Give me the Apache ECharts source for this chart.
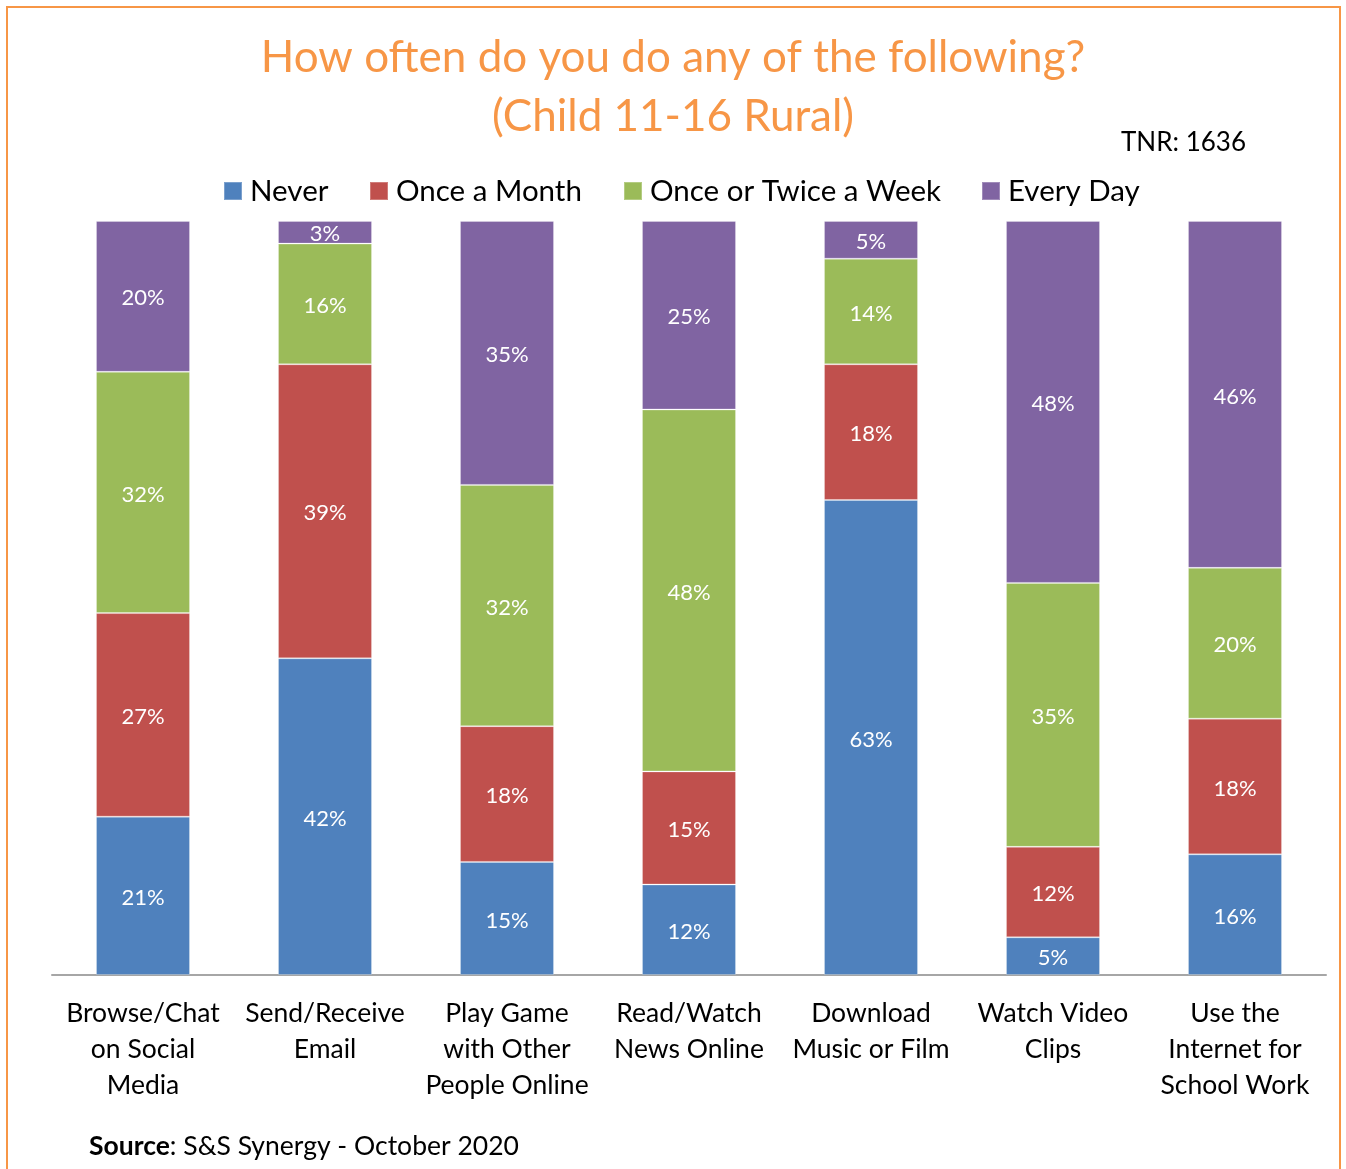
<!DOCTYPE html>
<html>
<head>
<meta charset="utf-8">
<script src="https://cdn.jsdelivr.net/npm/echarts@6/dist/echarts.min.js"></script>
<style>
  html, body { margin: 0; padding: 0; background: #fff; }
  #chart { width: 1346px; height: 1169px; }
</style>
</head>
<body>
<div id="chart"></div>
<script>
// Activities (x-axis categories)
const categories = [
  'Browse/Chat\non Social\nMedia',
  'Send/Receive\nEmail',
  'Play Game\nwith Other\nPeople Online',
  'Read/Watch\nNews Online',
  'Download\nMusic or Film',
  'Watch Video\nClips',
  'Use the\nInternet for\nSchool Work'
];

// Share of respondents (%) per frequency
const never          = [21, 42, 15, 12, 63, 5, 16];
const onceAMonth     = [27, 39, 18, 15, 18, 12, 18];
const onceTwiceWeek  = [32, 16, 32, 48, 14, 35, 20];
const everyDay       = [20, 3, 35, 25, 5, 48, 46];

const seriesNames  = ['Never', 'Once a Month', 'Once or Twice a Week', 'Every Day'];
const seriesValues = [never, onceAMonth, onceTwiceWeek, everyDay];
const seriesColors = ['#4F81BD', '#C0504D', '#9BBB59', '#8064A2'];
const legendLeft   = [223, 369, 623, 981];

const FONT = 'Lato, "Open Sans", sans-serif';

const chart = echarts.init(document.getElementById('chart'), null, { renderer: 'canvas' });

const option = {
  backgroundColor: '#ffffff',
  animation: false,
  legend: seriesNames.map((name, i) => ({
    data: [name],
    left: legendLeft[i],
    top: 176,
    padding: 0,
    itemWidth: 18,
    itemHeight: 18,
    itemGap: 0,
    icon: 'rect',
    selectedMode: false,
    textStyle: { fontFamily: FONT, fontSize: 29.5, color: '#000', padding: [0, 0, 0, 3] }
  })),
  grid: {
    left: 52,
    right: 20,
    top: 221,
    bottom: 194,
    containLabel: false
  },
  xAxis: {
    type: 'category',
    data: categories,
    axisLine: { lineStyle: { color: '#A6A6A6', width: 2 } },
    axisTick: { show: false },
    axisLabel: {
      interval: 0,
      margin: 20,
      fontFamily: FONT,
      fontSize: 26.5,
      lineHeight: 36,
      color: '#000',
      align: 'center'
    }
  },
  yAxis: {
    type: 'value',
    min: 0,
    max: 100,
    show: false,
    splitLine: { show: false }
  },
  series: seriesNames.map((name, i) => ({
    name: name,
    type: 'bar',
    stack: 'total',
    barWidth: 94,
    data: seriesValues[i],
    itemStyle: {
      color: seriesColors[i],
      borderColor: 'rgba(255,255,255,0.25)',
      borderWidth: 1
    },
    label: {
      show: true,
      position: 'inside',
      offset: [0, 2],
      formatter: '{c}%',
      fontFamily: FONT,
      fontSize: 22,
      color: '#ffffff'
    }
  })),
  graphic: [
    {
      type: 'rect',
      shape: { x: 7, y: 7, width: 1333, height: 1175 },
      style: { fill: 'none', stroke: '#F79646', lineWidth: 2 },
      silent: true
    },
    {
      type: 'text',
      x: 673,
      y: 28,
      style: {
        text: 'How often do you do any of the following?\n(Child 11-16 Rural)',
        font: '44px ' + FONT,
        lineHeight: 59,
        fill: '#F79646',
        align: 'center',
        verticalAlign: 'top'
      }
    },
    {
      type: 'text',
      left: 1121,
      top: 130,
      style: { text: 'TNR: 1636', font: '26px ' + FONT, fill: '#000' }
    },
    {
      type: 'text',
      left: 89,
      top: 1133,
      style: {
        text: '{b|Source}: S&S Synergy - October 2020',
        font: '26.5px ' + FONT,
        fill: '#000',
        rich: {
          b: { fontFamily: FONT, fontSize: 26.5, fontWeight: 'bold', fill: '#000' }
        }
      }
    }
  ]
};

chart.setOption(option);
</script>
</body>
</html>
